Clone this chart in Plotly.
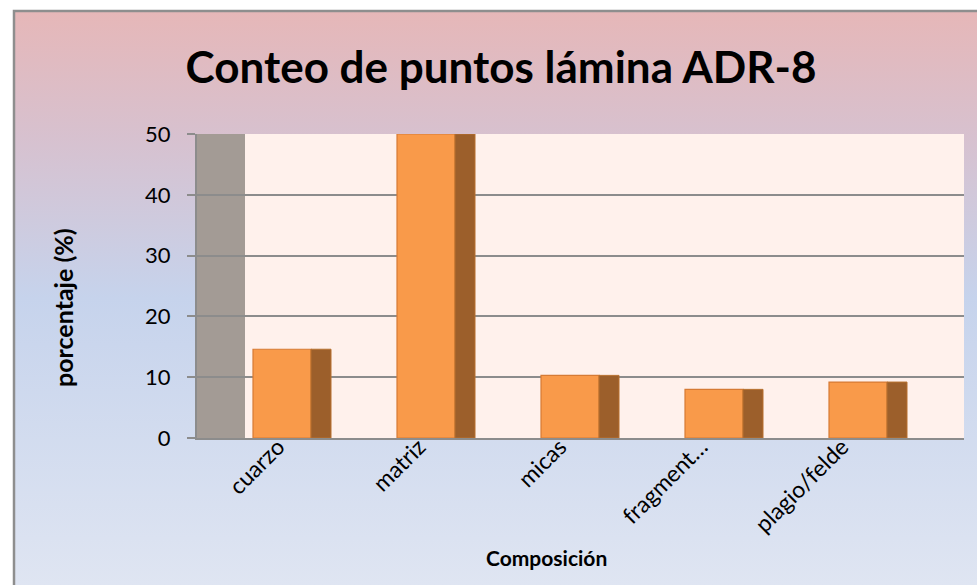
import base64
import plotly.graph_objects as go

# --- data -------------------------------------------------------------
categories = ["cuarzo", "matriz", "micas", "fragment…", "plagio/felde"]
porcentaje = [14.6, 50.0, 10.3, 8.0, 9.2]
y_ticks = [0, 10, 20, 30, 40, 50]

title_text = "Conteo de puntos lámina ADR-8"
x_title = "Composición"
y_title = "porcentaje (%)"

# --- geometry (pixels) --------------------------------------------------
W, H = 977, 585
M_L, M_R, M_T, M_B = 197, 13, 134, 147
PLOT_W = W - M_L - M_R
PLOT_H = H - M_T - M_B
STEP = 144.0          # px per category (columns)
C0 = 282.0            # px of first category (front-face centre)
LABEL_STEP = 141.0    # px per category label (perspective-compressed)
LABEL_C0 = 278.0      # px of first category label


def px_to_x(px):
    return (px - C0) / STEP


def px_to_paper_x(px):
    return (px - M_L) / PLOT_W


def py_to_paper_y(py):
    return (H - M_B - py) / PLOT_H


x_range = [px_to_x(M_L), px_to_x(W - M_R)]
label_range = [(M_L - LABEL_C0) / LABEL_STEP, (W - M_R - LABEL_C0) / LABEL_STEP]
wall_right = px_to_x(245)

FRONT_W = 58 / STEP
SIDE_W = 20 / STEP

FONT = "Lato, 'Open Sans', sans-serif"

# background gradient for the chart area
svg = (
    '<svg xmlns="http://www.w3.org/2000/svg" width="100" height="100" '
    'preserveAspectRatio="none">'
    '<defs><linearGradient id="g" x1="0" y1="0" x2="0" y2="1">'
    '<stop offset="0" stop-color="#E6B7B8"/>'
    '<stop offset="0.22" stop-color="#D7C1CF"/>'
    '<stop offset="0.50" stop-color="#C6D3EC"/>'
    '<stop offset="1" stop-color="#DFE5F2"/>'
    '</linearGradient></defs>'
    '<rect width="100" height="100" fill="url(#g)"/></svg>'
)
bg_src = "data:image/svg+xml;base64," + base64.b64encode(svg.encode()).decode()

idx = list(range(len(categories)))

fig = go.Figure()

# front faces of the columns
fig.add_trace(go.Bar(
    x=idx, y=porcentaje,
    width=FRONT_W, offset=-FRONT_W / 2,
    marker=dict(color="#F99A4A", line=dict(color="#D67B35", width=1.2)),
    hoverinfo="skip", showlegend=False,
))
# shaded side faces
fig.add_trace(go.Bar(
    x=idx, y=porcentaje,
    width=SIDE_W, offset=FRONT_W / 2,
    marker=dict(color="#9C5F2B", line=dict(color="#B8712F", width=1.0)),
    hoverinfo="skip", showlegend=False,
))
# empty trace that carries the category-label axis
fig.add_trace(go.Scatter(
    x=idx, y=[None] * len(idx), xaxis="x2", yaxis="y",
    mode="markers", hoverinfo="skip", showlegend=False,
))

shapes = [
    # chart-area frame
    dict(type="rect", xref="paper", yref="paper",
         x0=px_to_paper_x(14), x1=px_to_paper_x(990),
         y0=py_to_paper_y(11), y1=py_to_paper_y(600),
         line=dict(color="#8E8E8E", width=2.5), fillcolor="rgba(0,0,0,0)",
         layer="below"),
    # back wall / floor of the plot
    dict(type="rect", xref="x", yref="y",
         x0=wall_right, x1=x_range[1], y0=0, y1=y_ticks[-1],
         fillcolor="#FFF1EC", line=dict(width=0), layer="below"),
    # side wall
    dict(type="rect", xref="x", yref="y",
         x0=x_range[0], x1=wall_right, y0=0, y1=y_ticks[-1],
         fillcolor="#A39B95", line=dict(width=0), layer="below"),
]

fig.update_layout(
    width=W, height=H,
    margin=dict(l=M_L, r=M_R, t=M_T, b=M_B, autoexpand=False),
    paper_bgcolor="white",
    plot_bgcolor="rgba(0,0,0,0)",
    barmode="overlay",
    showlegend=False,
    font=dict(family=FONT, color="#000000"),
    title=dict(text="<b>" + title_text + "</b>",
               x=501 / W, xanchor="center", y=1 - 68 / H, yanchor="middle",
               font=dict(size=44, family=FONT, color="#000000")),
    images=[dict(source=bg_src, xref="paper", yref="paper",
                 x=px_to_paper_x(13), y=py_to_paper_y(11),
                 sizex=px_to_paper_x(W) - px_to_paper_x(13),
                 sizey=py_to_paper_y(11) - py_to_paper_y(H),
                 xanchor="left", yanchor="top", sizing="stretch",
                 layer="below")],
    shapes=shapes,
    xaxis=dict(range=x_range, showticklabels=False, ticks="",
               showgrid=False, zeroline=False,
               showline=True, linecolor="#8C8C8C", linewidth=2),
    xaxis2=dict(range=label_range, overlaying="x", anchor="y", side="bottom",
                tickmode="array", tickvals=idx, ticktext=categories,
                tickangle=-45, ticks="", showgrid=False, zeroline=False,
                showline=False, ticklabelstandoff=-10,
                tickfont=dict(size=23, family=FONT, color="#000000")),
    yaxis=dict(range=[0, y_ticks[-1]], tickmode="array", tickvals=y_ticks,
               ticks="outside", ticklen=8, tickwidth=2, tickcolor="#8C8C8C",
               showgrid=True, gridcolor="#8C8C8C", gridwidth=2,
               zeroline=False, showline=True, linecolor="#8C8C8C", linewidth=2,
               ticklabelstandoff=12,
               tickfont=dict(size=22, family=FONT, color="#000000")),
    annotations=[
        dict(text="<b>" + y_title + "</b>", xref="paper", yref="paper",
             x=px_to_paper_x(63), y=py_to_paper_y(308), textangle=-90,
             xanchor="center", yanchor="middle", showarrow=False,
             font=dict(size=25, family=FONT, color="#000000")),
        dict(text="<b>" + x_title + "</b>", xref="paper", yref="paper",
             x=px_to_paper_x(546), y=py_to_paper_y(557),
             xanchor="center", yanchor="middle", showarrow=False,
             font=dict(size=21, family=FONT, color="#000000")),
    ],
)

fig.write_html("out.html")
